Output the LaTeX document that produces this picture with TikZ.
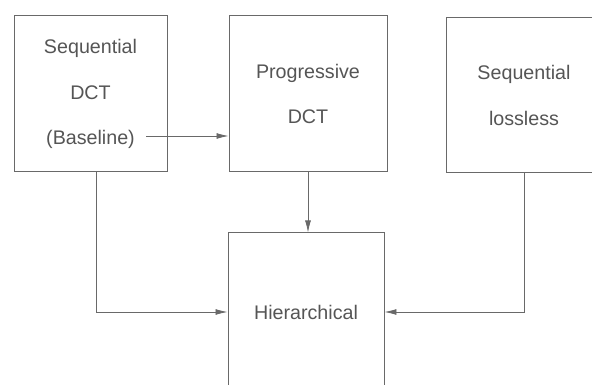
\documentclass[tikz,border=0pt]{standalone}
\usepackage{fontspec}
\setmainfont{Liberation Sans}
\usepackage{xcolor}
\usepackage{tikz}
\usetikzlibrary{arrows.meta,positioning,calc}
\definecolor{framegray}{RGB}{105,105,105}
\definecolor{labelgray}{RGB}{85,85,85}

\begin{document}
\begin{tikzpicture}[>={Latex[length=3mm,width=1.5mm]}, font=\fontsize{14}{32.5}\selectfont,
    modebox/.style={draw=framegray, line width=0.7pt, minimum width=3.9cm, minimum height=3.9cm, align=center, text=labelgray, inner sep=0pt},
    flow/.style={->, framegray, line width=0.6pt}]

% Page frame (boxes run past the right and bottom edges)
\useasboundingbox (0,0) rectangle (14.8,9.625);
\clip (0,0) rectangle (14.8,9.625);

% ==========================================
% TOP ROW: the three coding modes
% ==========================================
\node[modebox, minimum width=3.825cm] (seqdct) at (2.2625,7.275) {Sequential\\DCT\\(Baseline)};
\node[modebox, minimum width=3.95cm] (progdct) at (7.7,7.275) {Progressive\\DCT};
\node[modebox, minimum height=3.875cm] (seqll) at (13.1,7.24) {Sequential\\lossless};

% ==========================================
% BOTTOM: hierarchical mode
% ==========================================
\node[modebox, minimum height=3.95cm] (hier) at (7.65,1.825) {Hierarchical};

% Connectors
\coordinate (baseend) at (3.65,6.225);
\draw[flow] (baseend) -- (baseend -| progdct.west);
\draw[flow] (progdct.south) -- (progdct.south |- hier.north);
\draw[flow] ([xshift=0.14cm]seqdct.south) |- (hier.west);
\draw[flow] (seqll.south) |- (hier.east);

\end{tikzpicture}
\end{document}
